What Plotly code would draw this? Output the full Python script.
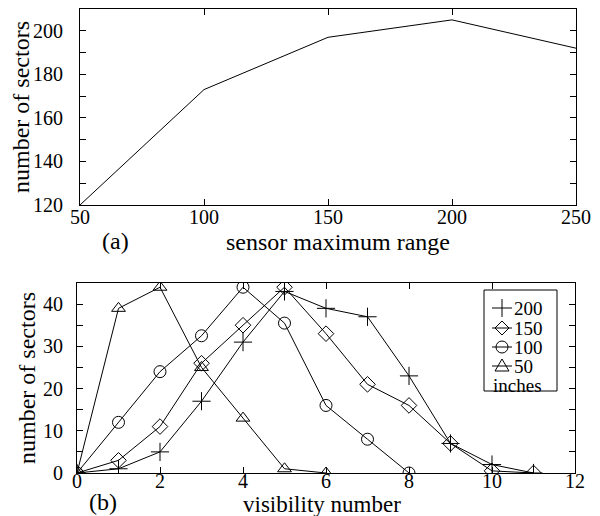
import plotly.graph_objects as go

# ---- data (a) ----
range_x = [50, 100, 150, 200, 250]
range_sectors = [120, 173, 197, 205, 192]

# ---- data (b) ----
vis_200_x = [0, 1, 2, 3, 4, 5, 6, 7, 8, 9, 10, 11]
vis_200_y = [0, 1, 5, 17, 31, 43, 39, 37, 23, 7, 2, 0]
vis_150_x = [0, 1, 2, 3, 4, 5, 6, 7, 8, 9, 10, 11]
vis_150_y = [0, 3, 11, 26, 35, 44, 33, 21, 16, 7, 0.5, 0]
vis_100_x = [0, 1, 2, 3, 4, 5, 6, 7, 8]
vis_100_y = [0, 12, 24, 32.5, 44, 35.5, 16, 8, 0]
vis_50_x = [0, 1, 2, 3, 4, 5, 6]
vis_50_y = [0, 39, 44, 25, 13, 1, 0]

legend_names = ["200", "150", "100", "50"]
legend_unit = "inches"

series = [
    (vis_200_x, vis_200_y, "cross-thin-open", 13),
    (vis_150_x, vis_150_y, "diamond-open", 12),
    (vis_100_x, vis_100_y, "circle-open", 12),
    (vis_50_x, vis_50_y, "triangle-up-open", 12),
]

FONT = "Liberation Serif, Times New Roman, serif"
BLACK = "black"
TICK_SIZE = 20
TITLE_SIZE = 24
LEG_SIZE = 19

# The page body has an 8px margin; lay out in screen pixels and convert.
OFF = 8
W, H = 600 - OFF, 516 - OFF
ML, MR, MT, MB = 77 - OFF, 24, 9 - OFF, 43
PW, PH = W - ML - MR, H - MT - MB


def fx(px):
    return (px - OFF - ML) / PW


def fy(py):
    return (H - MB - (py - OFF)) / PH


fig = go.Figure()

fig.add_trace(go.Scatter(x=range_x, y=range_sectors, mode="lines",
                         line=dict(color=BLACK, width=1), showlegend=False,
                         xaxis="x", yaxis="y"))

for name, (xs, ys, sym, sz) in zip(legend_names, series):
    fig.add_trace(go.Scatter(x=xs, y=ys, mode="lines+markers", name=name,
                             line=dict(color=BLACK, width=1),
                             marker=dict(symbol=sym, size=sz, color=BLACK,
                                         line=dict(width=1, color=BLACK)),
                             showlegend=False, xaxis="x2", yaxis="y2"))

axis_common = dict(showline=True, linecolor=BLACK, linewidth=1, mirror="ticks",
                   ticks="inside", ticklen=6, tickcolor=BLACK, tickwidth=1,
                   showgrid=False, zeroline=False, automargin=False,
                   tickfont=dict(family=FONT, size=TICK_SIZE, color=BLACK))

title_font = dict(family=FONT, size=TITLE_SIZE, color=BLACK)
leg_font = dict(family=FONT, size=LEG_SIZE, color=BLACK)

annotations = [
    dict(text="sensor maximum range", xref="paper", yref="paper",
         x=fx(338), y=fy(242), xanchor="center", yanchor="middle",
         showarrow=False, font=title_font, borderpad=0),
    dict(text="visibility number", xref="paper", yref="paper",
         x=fx(322), y=fy(504), xanchor="center", yanchor="middle",
         showarrow=False, font=dict(family=FONT, size=23, color=BLACK), borderpad=0),
    dict(text="(a)", xref="paper", yref="paper", x=fx(115), y=fy(241),
         xanchor="center", yanchor="middle", showarrow=False, font=title_font,
         borderpad=0),
    dict(text="(b)", xref="paper", yref="paper", x=fx(103), y=fy(502),
         xanchor="center", yanchor="middle", showarrow=False, font=title_font,
         borderpad=0),
    dict(text=legend_unit, xref="paper", yref="paper", x=fx(492), y=fy(385),
         xanchor="left", yanchor="middle", showarrow=False, font=leg_font,
         borderpad=0),
]

# legend box
shapes = [dict(type="rect", xref="paper", yref="paper",
               x0=fx(484), x1=fx(557), y0=fy(391), y1=fy(290),
               line=dict(color=BLACK, width=1), fillcolor="white", layer="below")]

row_py = [308, 328, 347, 366]
SX = 502  # symbol centre
for i, (name, py) in enumerate(zip(legend_names, row_py)):
    annotations.append(dict(text=name, xref="paper", yref="paper", x=fx(513), y=fy(py),
                            xanchor="left", yanchor="middle", showarrow=False,
                            font=leg_font, borderpad=0))
    shapes.append(dict(type="line", xref="paper", yref="paper",
                       x0=fx(SX - 10), x1=fx(SX + 10), y0=fy(py), y1=fy(py),
                       line=dict(color=BLACK, width=1)))
    if i == 0:
        shapes.append(dict(type="line", xref="paper", yref="paper",
                           x0=fx(SX), x1=fx(SX), y0=fy(py - 9), y1=fy(py + 9),
                           line=dict(color=BLACK, width=1)))
    elif i == 1:
        path = "M {} {} L {} {} L {} {} L {} {} Z".format(
            fx(SX - 7), fy(py), fx(SX), fy(py - 7), fx(SX + 7), fy(py), fx(SX), fy(py + 7))
        shapes.append(dict(type="path", xref="paper", yref="paper", path=path,
                           line=dict(color=BLACK, width=1)))
    elif i == 2:
        shapes.append(dict(type="circle", xref="paper", yref="paper",
                           x0=fx(SX - 6), x1=fx(SX + 6), y0=fy(py + 6), y1=fy(py - 6),
                           line=dict(color=BLACK, width=1)))
    else:
        path = "M {} {} L {} {} L {} {} Z".format(
            fx(SX - 7), fy(py + 5), fx(SX + 7), fy(py + 5), fx(SX), fy(py - 7))
        shapes.append(dict(type="path", xref="paper", yref="paper", path=path,
                           line=dict(color=BLACK, width=1)))

fig.update_layout(
    width=W, height=H,
    margin=dict(l=ML, r=MR, t=MT, b=MB),
    paper_bgcolor="white", plot_bgcolor="white",
    font=dict(family=FONT, size=TICK_SIZE, color=BLACK),
    showlegend=False,
    xaxis=dict(domain=[fx(80), fx(576)], anchor="y", range=[50, 250],
               tickvals=[50, 100, 150, 200, 250], ticklabelstandoff=-6,
               **axis_common),
    yaxis=dict(domain=[fy(205), fy(9)], anchor="x", range=[120, 210],
               tickvals=[120, 140, 160, 180, 200],
               minor=dict(tickvals=[130, 150, 170, 190], ticks="inside", ticklen=6,
                          tickcolor=BLACK),
               ticklabelstandoff=12,
               title=dict(text="number of sectors", standoff=0, font=title_font),
               **axis_common),
    xaxis2=dict(domain=[fx(77), fx(575)], anchor="y2", range=[0, 12],
                tickvals=[0, 2, 4, 6, 8, 10, 12], ticklabelstandoff=-10,
                **axis_common),
    yaxis2=dict(domain=[fy(473), fy(283)], anchor="x2", range=[0, 45],
                tickvals=[0, 10, 20, 30, 40],
                minor=dict(tickvals=[5, 15, 25, 35, 45], ticks="inside", ticklen=6,
                           tickcolor=BLACK),
                ticklabelstandoff=9,
                title=dict(text="number of sectors", standoff=0, font=title_font),
                **axis_common),
    shapes=shapes,
    annotations=annotations,
)

fig.write_html("out.html")
